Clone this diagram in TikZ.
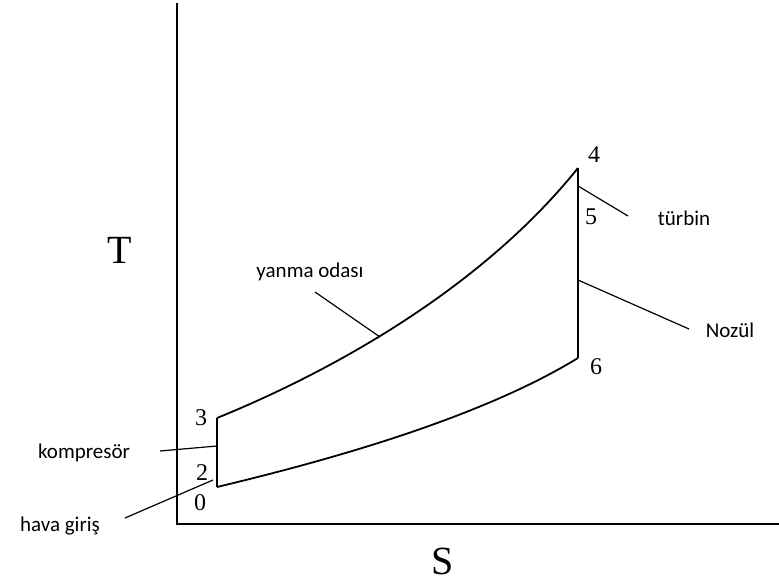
\documentclass[tikz,border=0pt]{standalone}
\usepackage{fontspec}
\setmainfont{Liberation Serif}
\newfontfamily\labelfont{Carlito}
\usetikzlibrary{positioning, calc}

\begin{document}
\begin{tikzpicture}[
    x=1pt, y=-1pt,
    axis/.style={draw=black, line width=1.6pt},
    cycle line/.style={draw=black, line width=1.8pt},
    pointer/.style={draw=black, line width=1.2pt},
    state/.style={font=\fontsize{24}{26}\selectfont, inner sep=0pt},
    part/.style={font=\labelfont\fontsize{21}{23}\selectfont, inner sep=0pt},
    axis label/.style={font=\fontsize{40}{44}\selectfont, inner sep=0pt}
]
    \useasboundingbox (0,0) rectangle (779,586);

    % Axes
    \coordinate (origin) at (177,524);
    \coordinate (ytop) at (177,3);
    \coordinate (xend) at (779,524);
    \draw[axis] (ytop) -- (origin) -- (xend);
    \node[axis label] (T) at (120,250) {T};
    \node[axis label] (S) at (443,561) {S};

    % Cycle states
    \coordinate (p0) at (217,487);
    \coordinate (p3) at (217,418);
    \coordinate (p4) at (578,168);
    \coordinate (p6) at (578,358);

    \draw[cycle line] (p3) .. controls (330,372) and (480,290) .. (p4);
    \draw[cycle line] (p4) -- (p6);
    \draw[cycle line] (p0) .. controls (330,460) and (480,418) .. (p6);
    \draw[cycle line] (p0) -- (p3);

    \node[state] (n3) at (201,418) {3};
    \node[state] (n2) at (202,473) {2};
    \node[state] (n0) at (200,503) {0};
    \node[state] (n4) at (594,155) {4};
    \node[state] (n5) at (591,217) {5};
    \node[state] (n6) at (596,367) {6};

    % Component labels
    \node[part] (komp) at (84,453) {kompresör};
    \node[part] (hava) at (60,526) {hava giriş};
    \node[part] (yanma) at (310,272) {yanma odası};
    \node[part] (turb) at (684,218) {türbin};
    \node[part] (noz) at (730,330) {Nozül};

    \coordinate (kompend) at (217,446);
    \coordinate (kompstart) at (160,451);
    \coordinate (havastart) at (125,518);
    \coordinate (havaend) at (213,480);
    \coordinate (yanmastart) at (315,292);
    \coordinate (yanmaend) at (380,337);
    \coordinate (turbend) at (578,186);
    \coordinate (turbstart) at (628,216);
    \coordinate (nozend) at (578,280);
    \coordinate (nozstart) at (689,329);

    \draw[pointer] (kompstart) -- (kompend);
    \draw[pointer] (havastart) -- (havaend);
    \draw[pointer] (yanmastart) -- (yanmaend);
    \draw[pointer] (turbstart) -- (turbend);
    \draw[pointer] (nozstart) -- (nozend);

\end{tikzpicture}
\end{document}
